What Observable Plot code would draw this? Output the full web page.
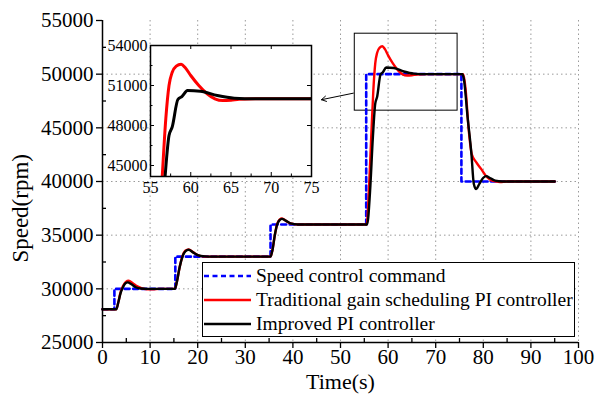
<!DOCTYPE html>
<html><head><meta charset="utf-8">
<script src="https://cdn.jsdelivr.net/npm/d3@7"></script>
<script src="https://cdn.jsdelivr.net/npm/@observablehq/plot@0.6"></script>
<style>
body{margin:0;background:#fff;}
#wrap{position:relative;width:597px;height:398px;font-family:"Liberation Serif","Times New Roman",serif;}
#wrap > svg{position:absolute;}
#wrap svg text{font-family:"Liberation Serif","Times New Roman",serif;}
#legend{position:absolute;left:202px;top:262px;width:373px;height:75px;border:1.5px solid #000;background:#fff;box-sizing:border-box;}
.row{position:absolute;left:0;height:24px;display:flex;align-items:center;font-size:19.5px;color:#000;white-space:nowrap;}
.row svg{display:block;margin-right:3px;}
</style>
</head><body>
<div id="wrap"></div>
<script>
// ---- data ----
const seriesNames = ["Speed control command", "Traditional gain scheduling PI controller", "Improved PI controller"];
const cmdTime  = [0, 2.5, 15.3, 35.3, 55.4, 75.4, 95];
const cmdSpeed = [28100, 30000, 33000, 36000, 50000, 40000, 40000];

const tradTime  = [0, 2.9, 3.3, 3.8, 4.3, 4.9, 5.5, 6.3, 7.2, 8.3, 9.5, 10.5, 12, 15.2, 15.6, 16.2, 16.8, 17.4, 18.1, 19, 20, 21.5, 23, 35.3, 35.7, 36.2, 36.7, 37.2, 37.7, 38.5, 39.5, 41, 55.5, 56.0, 56.45, 56.9, 57.3, 57.7, 58.2, 58.8, 59.3, 60, 61, 62, 63, 64, 65, 66, 68, 75.8, 76.3, 76.9, 77.6, 78.5, 79.5, 80.8, 82, 83.5, 85, 95];
const tradSpeed = [28100, 28100, 28700, 29700, 30250, 30650, 30750, 30550, 30250, 30050, 29950, 29950, 30000, 30000, 30600, 32000, 33050, 33550, 33680, 33420, 33150, 33000, 33000, 33000, 33600, 35000, 36050, 36450, 36550, 36350, 36100, 36000, 36000, 39500, 44100, 48500, 51000, 52000, 52450, 52600, 52350, 51750, 51000, 50400, 50000, 49870, 49900, 49960, 50000, 50000, 48500, 45000, 42500, 41800, 41200, 40400, 40050, 39950, 40000, 40000];

const impTime  = [0, 2.9, 3.3, 3.8, 4.3, 4.8, 5.3, 6.0, 7.0, 8.0, 9.5, 15.2, 15.6, 16.2, 16.8, 17.4, 18.1, 19, 20, 21.5, 23, 35.3, 35.7, 36.2, 36.7, 37.2, 37.7, 38.5, 39.5, 41, 55.6, 56.2, 56.8, 57.3, 57.7, 58.4, 58.9, 59.6, 61.2, 63.3, 65.4, 68, 75.6, 75.9, 76.7, 77.5, 78.0, 78.5, 79.2, 80.0, 80.6, 81.5, 82.5, 84, 95];
const impSpeed = [28100, 28100, 28700, 29600, 30150, 30500, 30600, 30450, 30150, 30030, 30000, 30000, 30600, 32000, 33000, 33500, 33640, 33400, 33150, 33020, 33000, 33000, 33600, 35000, 36000, 36400, 36520, 36350, 36100, 36000, 36000, 39000, 44100, 47250, 47900, 49950, 50170, 50620, 50570, 50250, 50050, 50000, 50000, 49600, 46000, 42600, 39800, 39300, 39800, 40350, 40500, 40300, 40080, 40000, 40000];

const xTicks = [0, 10, 20, 30, 40, 50, 60, 70, 80, 90, 100];
const yTicks = [25000, 30000, 35000, 40000, 45000, 50000, 55000];
const insetXTicks = [55, 60, 65, 70, 75];
const insetYTicks = [45000, 48000, 51000, 54000];

// annotation geometry (data coordinates)
const zoomBox = [{x1: 53, x2: 74.6, y1: 46600, y2: 53770}];
const pointer = [{x1: 52.7, y1: 48230, x2: 46.0, y2: 47620}];
const yLabelAt = [{y: 37500, text: "Speed(rpm)"}];

// ---- build ----
const cmd  = cmdTime.map((t, i) => ({t, v: cmdSpeed[i]}));
const trad = tradTime.map((t, i) => ({t, v: tradSpeed[i]}));
const imp  = impTime.map((t, i) => ({t, v: impSpeed[i]}));
const mid = a => a.slice(0, -1).map((d, i) => (d + a[i + 1]) / 2);

const FONT = '"Liberation Serif","Times New Roman",serif';
const W = 597, H = 398, ML = 102, MR = 19, MT = 20, MB = 56;
const fw = W - ML - MR, fh = H - MT - MB;

const main = Plot.plot({
  width: W, height: H, marginLeft: ML, marginRight: MR, marginTop: MT, marginBottom: MB,
  style: {fontFamily: FONT, background: "transparent", color: "#000", overflow: "visible"},
  x: {domain: [0, 100]},
  y: {domain: [25000, 55000]},
  marks: [
    Plot.gridX(xTicks.slice(1), {stroke: "#9a9a9a", strokeOpacity: 1, strokeDasharray: "1.5,3"}),
    Plot.gridY(yTicks.slice(1, -1), {stroke: "#9a9a9a", strokeOpacity: 1, strokeDasharray: "1.5,3"}),
    Plot.rect(zoomBox, {x1: "x1", x2: "x2", y1: "y1", y2: "y2", fill: "none", stroke: "#000", strokeWidth: 1}),
    Plot.arrow(pointer, {x1: "x1", y1: "y1", x2: "x2", y2: "y2", stroke: "#000", strokeWidth: 1, headLength: 8}),
    Plot.line(cmd, {x: "t", y: "v", curve: "step-after", stroke: "#0000ff", strokeWidth: 2.6, strokeDasharray: "5,3.5"}),
    Plot.line(trad, {x: "t", y: "v", curve: "monotone-x", stroke: "#ff0000", strokeWidth: 2.4}),
    Plot.line(imp, {x: "t", y: "v", curve: "monotone-x", stroke: "#000", strokeWidth: 2.4}),
    Plot.axisX({ticks: xTicks, tickSize: 6, tickPadding: 1, fontSize: 21, fontFamily: FONT, label: null, strokeWidth: 1.3}),
    Plot.tickX(mid(xTicks), {x: d => d, insetTop: fh - 4, strokeWidth: 1.3}),
    Plot.axisY({ticks: yTicks, tickSize: 6, tickPadding: 3, fontSize: 21, fontFamily: FONT, label: null, tickFormat: d => String(d), strokeWidth: 1.3}),
    Plot.tickY(mid(yTicks), {y: d => d, insetRight: fw - 4, strokeWidth: 1.3}),
    Plot.ruleX([0], {strokeWidth: 1.5}),
    Plot.ruleY([25000], {strokeWidth: 1.5}),
    Plot.text(["Time(s)"], {frameAnchor: "bottom", dy: 39, fontSize: 22, fontFamily: FONT, lineAnchor: "middle"}),
    Plot.text(yLabelAt, {y: "y", text: "text", frameAnchor: "left", dx: -82, rotate: -90, fontSize: 23, fontFamily: FONT, lineAnchor: "middle", textAnchor: "middle"})
  ]
});
main.style.left = "0px"; main.style.top = "0px";
document.getElementById("wrap").appendChild(main);

// inset
const IW = 217, IH = 171, IML = 50, IMR = 6, IMT = 15, IMB = 25;
const ifw = IW - IML - IMR, ifh = IH - IMT - IMB;
const inset = Plot.plot({
  width: IW, height: IH, marginLeft: IML, marginRight: IMR, marginTop: IMT, marginBottom: IMB,
  style: {fontFamily: FONT, background: "transparent", color: "#000", overflow: "visible"},
  x: {domain: [55, 75]},
  y: {domain: [44175, 54000]},
  marks: [
    Plot.frame({fill: "#fff", stroke: "none"}),
    Plot.line(trad, {x: "t", y: "v", curve: "monotone-x", stroke: "#ff0000", strokeWidth: 3, clip: true}),
    Plot.line(imp, {x: "t", y: "v", curve: "monotone-x", stroke: "#000", strokeWidth: 3, clip: true}),
    Plot.frame({stroke: "#000", strokeWidth: 1.5}),
    Plot.axisX({ticks: insetXTicks, tickSize: 0, tickPadding: 5, fontSize: 16, fontFamily: FONT, label: null}),
    Plot.axisY({ticks: insetYTicks, tickSize: 0, tickPadding: 3, fontSize: 16, fontFamily: FONT, label: null, tickFormat: d => String(d)}),
    Plot.tickX(insetXTicks, {x: d => d, insetTop: ifh - 4}),
    Plot.tickX(mid(insetXTicks), {x: d => d, insetTop: ifh - 2.5}),
    Plot.tickX(insetXTicks, {x: d => d, insetBottom: ifh - 4}),
    Plot.tickY(insetYTicks, {y: d => d, insetRight: ifw - 4}),
    Plot.tickY(mid(insetYTicks), {y: d => d, insetRight: ifw - 2.5}),
    Plot.tickY(insetYTicks, {y: d => d, insetLeft: ifw - 4})
  ]
});
inset.style.left = "100px"; inset.style.top = "30px";
document.getElementById("wrap").appendChild(inset);

// legend
const legend = document.createElement("div");
legend.id = "legend";
const styles = [
  {stroke: "#0000ff", dash: "5,3.5"},
  {stroke: "#ff0000", dash: null},
  {stroke: "#000", dash: null}
];
seriesNames.forEach((name, i) => {
  const row = document.createElement("div");
  row.className = "row";
  row.style.top = (1 + i * 24) + "px";
  const s = styles[i];
  row.innerHTML = `<svg width="50" height="10"><line x1="1" x2="48" y1="5" y2="5" stroke="${s.stroke}" stroke-width="2.6" ${s.dash ? `stroke-dasharray="${s.dash}"` : ""}/></svg><span></span>`;
  row.querySelector("span").textContent = name;
  legend.appendChild(row);
});
document.getElementById("wrap").appendChild(legend);
</script>
</body></html>
